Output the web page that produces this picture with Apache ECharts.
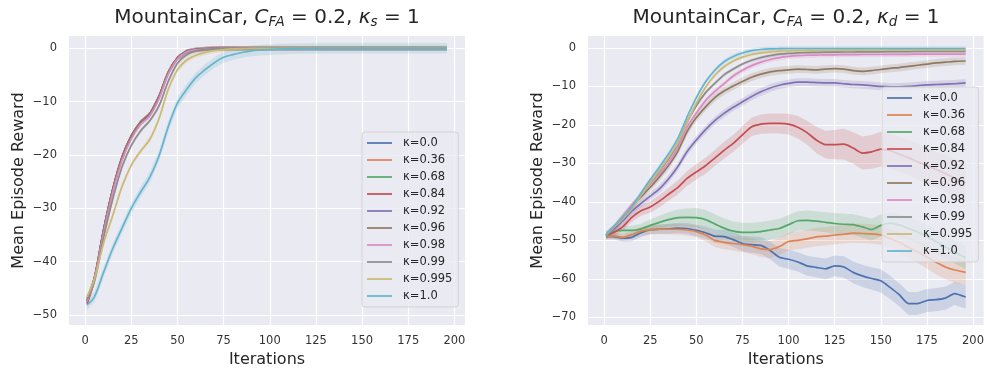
<!DOCTYPE html>
<html>
<head>
<meta charset="utf-8">
<script src="https://cdn.jsdelivr.net/npm/echarts@6/dist/echarts.min.js"></script>
<style>
  html, body { margin: 0; padding: 0; background: #ffffff; }
  #chart { width: 987px; height: 373px; }
</style>
</head>
<body>
<div id="chart"></div>
<script>
// Training iterations at which the mean episode reward was recorded
const iterations = [1, 5, 10, 15, 20, 25, 30, 35, 40, 45, 50, 55, 60, 65, 70, 75, 80, 85, 90, 95,
  100, 105, 110, 115, 120, 125, 130, 135, 140, 145, 150, 155, 160, 165, 170, 175, 180, 185, 190, 196];

const kappaLabels = ['κ=0.0', 'κ=0.36', 'κ=0.68', 'κ=0.84', 'κ=0.92', 'κ=0.96', 'κ=0.98', 'κ=0.99', 'κ=0.995', 'κ=1.0'];
const xTicks = [0, 25, 50, 75, 100, 125, 150, 175, 200];
const leftYTicks = [-50, -40, -30, -20, -10, 0];
const rightYTicks = [-70, -60, -50, -40, -30, -20, -10, 0];

// ---- Left panel: kappa_s sweep ----
const sK00  = [-47.6, -43.0, -34.0, -26.4, -20.5, -16.5, -13.9, -12.3, -9.0, -4.5, -1.8, -0.6, -0.25, -0.1, -0.05, 0, 0, 0, 0, 0, 0, 0, 0, 0, 0, 0, 0, 0, 0, 0, 0, 0, 0, 0, 0, 0, 0, 0, 0, 0];
const sK036 = [-47.4, -43.1, -34.1, -26.5, -20.6, -16.6, -14.0, -12.4, -9.1, -4.6, -1.85, -0.6, -0.3, -0.1, -0.05, 0, 0, 0, 0, 0, 0, 0, 0, 0, 0, 0, 0, 0, 0, 0, 0, 0, 0, 0, 0, 0, 0, 0, 0, 0];
const sK068 = [-47.5, -43.2, -34.2, -26.6, -20.6, -16.6, -14.0, -12.4, -9.1, -4.6, -1.9, -0.65, -0.3, -0.15, -0.05, 0, 0, 0, 0, 0, 0, 0, 0, 0, 0, 0, 0, 0, 0, 0, 0, 0, 0, 0, 0, 0, 0, 0, 0, 0];
const sK084 = [-48.0, -43.4, -34.0, -26.3, -20.3, -16.4, -13.9, -12.3, -9.0, -4.5, -1.8, -0.6, -0.25, -0.1, -0.05, 0, 0, 0, 0, 0, 0, 0, 0, 0, 0, 0, 0, 0, 0, 0, 0, 0, 0, 0, 0, 0, 0, 0, 0, 0];
const sK092 = [-47.3, -43.2, -34.1, -26.5, -20.5, -16.5, -14.0, -12.4, -9.1, -4.6, -1.85, -0.6, -0.3, -0.1, -0.05, 0, 0, 0, 0, 0, 0, 0, 0, 0, 0, 0, 0, 0, 0, 0, 0, 0, 0, 0, 0, 0, 0, 0, 0, 0];
const sK096 = [-46.9, -43.0, -34.0, -26.4, -20.4, -16.4, -13.8, -12.3, -9.0, -4.5, -1.8, -0.6, -0.25, -0.1, -0.05, 0, 0, 0, 0, 0, 0, 0, 0, 0, 0, 0, 0, 0, 0, 0, 0, 0, 0, 0, 0, 0, 0, 0, 0, 0];
const sK098 = [-47.5, -43.3, -34.6, -27.0, -21.0, -17.0, -14.3, -12.7, -9.5, -4.9, -2.0, -0.7, -0.3, -0.15, -0.05, 0, 0, 0, 0, 0, 0, 0, 0, 0, 0, 0, 0, 0, 0, 0, 0, 0, 0, 0, 0, 0, 0, 0, 0, 0];
const sK099 = [-47.2, -43.8, -35.5, -28.2, -22.2, -18.2, -15.5, -13.6, -10.8, -6.2, -2.8, -1.2, -0.5, -0.25, -0.1, -0.05, 0, 0, 0, 0, 0, 0, 0, 0, 0, 0, 0, 0, 0, 0, 0, 0, 0, 0, 0, 0, 0, 0, 0, 0];
const sK0995 = [-46.6, -43.3, -36.5, -31.3, -25.9, -21.9, -19.3, -17.1, -13.2, -7.7, -4.0, -2.2, -1.3, -0.8, -0.45, -0.25, -0.12, -0.06, -0.03, -0.01, 0, 0, 0, 0, 0, 0, 0, 0, 0, 0, 0, 0, 0, 0, 0, 0, 0, 0, 0, 0];
const sK10  = [-48.1, -46.6, -42.0, -37.5, -33.7, -30.0, -27.0, -24.2, -20.2, -14.7, -10.3, -7.7, -5.5, -4.0, -2.7, -1.7, -1.2, -0.8, -0.5, -0.35, -0.25, -0.15, -0.1, -0.07, -0.05, -0.03, 0, 0, 0, 0, 0, 0, 0, 0, 0, 0, 0, 0, 0, 0];
const leftValues = [sK00, sK036, sK068, sK084, sK092, sK096, sK098, sK099, sK0995, sK10];
const leftSpread = [0.4, 0.4, 0.4, 0.4, 0.4, 0.4, 0.4, 0.4, 0.5, 1.0];

// ---- Right panel: kappa_d sweep ----
const dK00  = [-49.0, -49.0, -49.4, -49.2, -48.0, -47.2, -47.1, -47.0, -46.8, -46.9, -47.4, -48.0, -48.9, -49.0, -49.8, -50.8, -51.1, -51.3, -52.6, -54.4,
  -54.9, -55.6, -56.6, -57.0, -57.4, -56.6, -56.9, -58.3, -59.2, -59.9, -60.5, -62.2, -64.1, -66.4, -66.4, -65.6, -65.4, -65.0, -63.8, -64.7];
const dK036 = [-49.1, -48.8, -49.2, -48.5, -47.6, -47.2, -47.1, -47.1, -47.1, -47.3, -47.7, -48.6, -50.0, -50.5, -50.8, -51.1, -51.5, -52.2, -52.4, -51.6,
  -50.3, -50.0, -49.6, -49.1, -48.9, -48.6, -48.4, -48.1, -48.2, -48.3, -48.6, -49.5, -50.5, -51.8, -53.0, -54.3, -55.7, -56.9, -57.7, -58.3];
const dK068 = [-48.9, -47.8, -47.4, -47.4, -47.0, -46.1, -45.3, -44.6, -44.1, -44.0, -44.1, -44.6, -45.7, -46.8, -47.6, -47.9, -47.9, -47.7, -47.3, -46.9,
  -45.9, -44.9, -44.8, -45.0, -45.3, -45.6, -45.8, -45.9, -46.5, -47.2, -46.1, -45.5, -46.0, -46.9, -47.8, -49.0, -50.3, -51.7, -53.0, -54.5];
const dK084 = [-48.6, -48.0, -46.5, -44.0, -42.3, -41.3, -39.8, -38.0, -36.2, -33.9, -32.2, -30.6, -28.6, -26.6, -24.8, -22.6, -20.5, -19.8, -19.6, -19.6,
  -19.8, -20.6, -22.0, -23.9, -25.1, -25.1, -25.0, -26.0, -27.3, -27.0, -26.3, -26.7, -27.6, -28.5, -29.6, -30.6, -31.6, -32.6, -33.8, -35.0];
const dK092 = [-48.6, -47.2, -45.0, -42.4, -40.4, -38.5, -36.6, -34.0, -30.8, -26.9, -23.9, -21.2, -18.9, -17.0, -15.4, -14.0, -12.6, -11.4, -10.4, -9.7,
  -9.2, -8.9, -8.9, -9.0, -9.1, -9.1, -9.3, -9.5, -9.6, -9.8, -10.0, -10.1, -10.1, -10.0, -9.8, -9.6, -9.5, -9.4, -9.3, -9.1];
const dK096 = [-48.6, -47.0, -44.0, -41.2, -38.7, -36.2, -33.5, -30.5, -26.8, -21.7, -18.1, -15.3, -12.9, -11.2, -9.9, -8.7, -7.6, -6.8, -6.2, -5.9,
  -5.7, -5.5, -5.6, -5.7, -5.5, -5.4, -5.5, -5.9, -6.1, -5.9, -5.6, -5.3, -5.1, -4.8, -4.5, -4.2, -3.9, -3.7, -3.5, -3.4];
const dK098 = [-48.6, -46.8, -43.8, -40.8, -38.2, -35.4, -32.7, -29.8, -25.7, -20.5, -16.9, -13.7, -11.3, -9.3, -7.3, -5.8, -4.6, -3.7, -3.0, -2.5,
  -2.2, -2.0, -1.9, -1.85, -1.8, -1.8, -1.75, -1.75, -1.7, -1.7, -1.7, -1.65, -1.65, -1.65, -1.6, -1.6, -1.6, -1.6, -1.6, -1.6];
const dK099 = [-48.6, -46.7, -44.2, -41.4, -38.2, -35.0, -32.0, -28.8, -24.8, -19.2, -15.0, -11.6, -9.2, -7.0, -5.5, -4.2, -3.2, -2.5, -2.0, -1.6,
  -1.4, -1.3, -1.2, -1.15, -1.1, -1.1, -1.05, -1.05, -1.0, -1.0, -1.0, -0.95, -0.95, -0.95, -0.9, -0.9, -0.9, -0.9, -0.9, -0.9];
const dK0995 = [-48.7, -46.7, -44.5, -41.8, -38.3, -35.0, -31.8, -28.4, -24.6, -19.3, -14.3, -10.2, -7.1, -4.9, -3.4, -2.4, -1.7, -1.3, -1.0, -0.85,
  -0.75, -0.7, -0.65, -0.62, -0.6, -0.6, -0.58, -0.56, -0.55, -0.55, -0.54, -0.53, -0.52, -0.52, -0.51, -0.5, -0.5, -0.5, -0.5, -0.5];
const dK10  = [-48.7, -46.5, -44.0, -41.3, -37.7, -34.2, -30.9, -27.5, -23.5, -17.9, -12.9, -8.8, -5.8, -3.6, -2.2, -1.3, -0.7, -0.4, -0.25, -0.2,
  -0.15, -0.15, -0.15, -0.15, -0.15, -0.15, -0.15, -0.15, -0.15, -0.15, -0.15, -0.15, -0.15, -0.15, -0.15, -0.15, -0.15, -0.15, -0.15, -0.15];
const rightValues = [dK00, dK036, dK068, dK084, dK092, dK096, dK098, dK099, dK0995, dK10];

// Confidence band half-widths for the right panel
const dSpread00  = [0.7, 0.8, 0.9, 1.0, 1.1, 1.2, 1.2, 1.3, 1.3, 1.4, 1.5, 1.6, 1.7, 1.8, 1.9, 2.0, 2.1, 2.2, 2.3, 2.4,
  2.5, 2.5, 2.6, 2.6, 2.7, 2.7, 2.8, 2.8, 2.9, 2.9, 3.0, 3.0, 3.0, 3.0, 3.0, 3.0, 3.0, 3.0, 3.0, 3.0];
const dSpread036 = [0.7, 0.8, 0.9, 1.0, 1.1, 1.2, 1.3, 1.3, 1.4, 1.4, 1.5, 1.6, 1.7, 1.8, 1.9, 2.0, 2.1, 2.1, 2.2, 2.2,
  2.3, 2.3, 2.3, 2.4, 2.4, 2.4, 2.4, 2.5, 2.5, 2.5, 2.5, 2.6, 2.7, 2.8, 2.9, 3.0, 3.1, 3.2, 3.3, 3.4];
const dSpread068 = [0.7, 0.9, 1.0, 1.2, 1.3, 1.5, 1.7, 1.9, 2.1, 2.3, 2.5, 2.5, 2.5, 2.5, 2.5, 2.5, 2.5, 2.5, 2.5, 2.5,
  2.5, 2.5, 2.6, 2.6, 2.6, 2.7, 2.7, 2.7, 2.8, 2.8, 2.8, 2.9, 2.9, 2.9, 3.0, 3.0, 3.0, 3.0, 3.0, 3.0];
const dSpread084 = [0.8, 0.9, 1.0, 1.2, 1.3, 1.5, 1.6, 1.7, 1.8, 1.9, 2.0, 2.1, 2.1, 2.2, 2.2, 2.3, 2.4, 2.5, 2.6, 2.6,
  2.7, 2.9, 3.1, 3.4, 3.6, 3.8, 4.0, 4.1, 4.3, 4.4, 4.5, 4.5, 4.6, 4.6, 4.7, 4.7, 4.7, 4.8, 4.8, 4.8];
const rightSpread = [dSpread00, dSpread036, dSpread068, dSpread084, 1.0, 1.0, 0.7, 0.5, 0.5, 0.6];

// seaborn "deep" palette
const palette = ['#4C72B0', '#DD8452', '#55A868', '#C44E52', '#8172B3', '#937860', '#DA8BC3', '#8C8C8C', '#CCB974', '#64B5CD'];

const FONT = 'DejaVu Sans';
const INK = '#262626';

function withAlpha(hex, a) {
  const n = parseInt(hex.slice(1), 16);
  return 'rgba(' + ((n >> 16) & 255) + ',' + ((n >> 8) & 255) + ',' + (n & 255) + ',' + a + ')';
}

function minusSign(v) { return String(v).replace('-', '\u2212'); }

// Shaded band drawn as one polygon through the axis coordinate system
function bandSeries(panel, k, values, spread) {
  const rows = iterations.map(function (x, i) {
    const h = Array.isArray(spread) ? spread[i] : spread;
    return [x, values[i] - h, values[i] + h];
  });
  const fill = withAlpha(palette[k], 0.2);
  return {
    type: 'custom',
    name: 'band-' + panel + '-' + k,
    xAxisIndex: panel, yAxisIndex: panel,
    silent: true, animation: false,
    data: rows,
    encode: { x: 0, y: [1, 2] },
    renderItem: function (params, api) {
      if (params.dataIndex !== 0) return null;
      const upper = rows.map(function (r) { return api.coord([r[0], r[2]]); });
      const lower = rows.map(function (r) { return api.coord([r[0], r[1]]); }).reverse();
      return { type: 'polygon', shape: { points: upper.concat(lower) }, style: { fill: fill, stroke: null } };
    }
  };
}

function lineSeries(panel, k, values, smooth) {
  return {
    type: 'line',
    name: kappaLabels[k],
    xAxisIndex: panel, yAxisIndex: panel,
    data: iterations.map(function (x, i) { return [x, values[i]]; }),
    symbol: 'none', showSymbol: false, smooth: smooth,
    lineStyle: { width: 1.7, color: palette[k] },
    itemStyle: { color: palette[k] },
    silent: true, animation: false
  };
}

const series = [];
[leftValues, rightValues].forEach(function (set, panel) {
  const spreads = panel === 0 ? leftSpread : rightSpread;
  set.forEach(function (vals, k) {
    series.push(bandSeries(panel, k, vals, spreads[k]));
    series.push(lineSeries(panel, k, vals, panel === 0 ? 0.35 : 0.2));
  });
});

function xAxisFor(panel) {
  return {
    type: 'value', gridIndex: panel, min: -8.75, max: 205.75,
    name: 'Iterations', nameLocation: 'middle', nameGap: 25,
    nameTextStyle: { fontFamily: FONT, fontSize: 16, color: INK },
    axisLine: { show: false },
    axisTick: { show: false, customValues: xTicks },
    axisLabel: { customValues: xTicks, fontFamily: FONT, fontSize: 11.5, color: '#333', margin: 10, formatter: minusSign },
    splitLine: { show: true, lineStyle: { color: '#ffffff', width: 1.2 } }
  };
}
function yAxisFor(panel, min, max, ticks) {
  return {
    type: 'value', gridIndex: panel, min: min, max: max,
    name: 'Mean Episode Reward', nameLocation: 'middle', nameGap: 42,
    nameTextStyle: { fontFamily: FONT, fontSize: 16, color: INK },
    axisLine: { show: false },
    axisTick: { show: false, customValues: ticks },
    axisLabel: { customValues: ticks, fontFamily: FONT, fontSize: 11.5, color: '#333', margin: 12, formatter: minusSign },
    splitLine: { show: true, lineStyle: { color: '#ffffff', width: 1.2 } }
  };
}

const titleRich = {
  a: { fontFamily: FONT, fontSize: 20, fontWeight: 'normal', color: INK },
  i: { fontFamily: FONT, fontSize: 20, fontWeight: 'normal', fontStyle: 'italic', color: INK },
  s: { fontFamily: FONT, fontSize: 13.5, fontWeight: 'normal', fontStyle: 'italic', color: INK, padding: [9, 0, 0, 0] }
};

// Legend handle: a short horizontal stroke
const LINE_ICON = 'path://M0,0H25V1.7H0Z';

function legendFor(panel) {
  return {
    data: kappaLabels.map(function (n) { return { name: n, icon: LINE_ICON }; }),
    orient: 'vertical',
    left: panel === 0 ? 362 : 882,
    top: panel === 0 ? 132 : 87,
    itemWidth: 25, itemHeight: 14, itemGap: 5,
    padding: [5, 6, 5, 5],
    backgroundColor: 'rgba(234,234,242,0.8)',
    borderColor: 'rgba(204,204,204,0.8)', borderWidth: 1, borderRadius: 3,
    selectedMode: false,
    textStyle: { fontFamily: FONT, fontSize: 11.5, color: INK, padding: [0, 0, 0, 6] }
  };
}

const chart = echarts.init(document.getElementById('chart'), null, { renderer: 'canvas' });
chart.setOption({
  animation: false,
  backgroundColor: '#ffffff',
  title: [
    { text: '{a|MountainCar, }{i|C}{s|FA}{a| = 0.2, }{i|κ}{s|s}{a| = 1}', left: 267, top: 6, textAlign: 'center', padding: 0,
      textStyle: { fontWeight: 'normal', rich: titleRich } },
    { text: '{a|MountainCar, }{i|C}{s|FA}{a| = 0.2, }{i|κ}{s|d}{a| = 1}', left: 786, top: 6, textAlign: 'center', padding: 0,
      textStyle: { fontWeight: 'normal', rich: titleRich } }
  ],
  grid: [
    { left: 69, right: 522, top: 36, bottom: 43, show: true, backgroundColor: '#EAEAF2', borderWidth: 0, containLabel: false },
    { left: 588, right: 3, top: 36, bottom: 43, show: true, backgroundColor: '#EAEAF2', borderWidth: 0, containLabel: false }
  ],
  xAxis: [xAxisFor(0), xAxisFor(1)],
  yAxis: [yAxisFor(0, -51.9, 2.3, leftYTicks), yAxisFor(1, -72, 3.1, rightYTicks)],
  legend: [legendFor(0), legendFor(1)],
  series: series
});
</script>
</body>
</html>
